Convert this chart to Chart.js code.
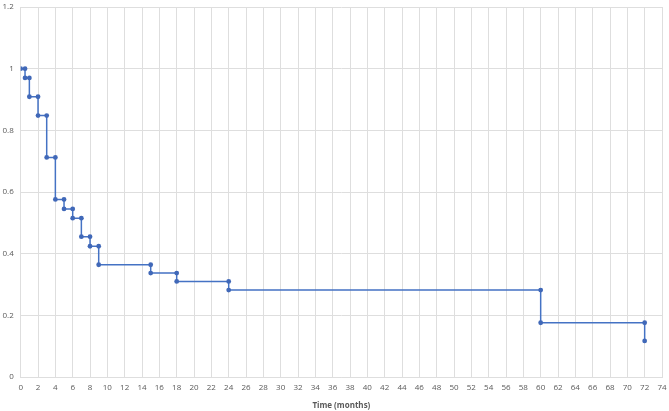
<!DOCTYPE html>
<html>
<head>
<meta charset="utf-8">
<script src="https://cdn.jsdelivr.net/npm/chart.js@4.4.1/dist/chart.umd.min.js"></script>
<style>
	html, body { margin: 0; padding: 0; background: #fff; }
	#wrap { width: 669px; height: 411px; }
</style>
</head>
<body>
<div id="wrap"><canvas id="kmChart" width="669" height="411"></canvas></div>
<script>
// step times (months) and survival level after each step
const times = [0, 0.5, 1, 2, 3, 4, 5, 6, 7, 8, 9, 15, 18, 24, 60, 72];
const survival = [1, 0.97, 0.909, 0.848, 0.712, 0.576, 0.545, 0.515, 0.455, 0.424, 0.364, 0.337, 0.31, 0.282, 0.176, 0.117];
const xTicks = { min: 0, max: 74, step: 2 };
const yTicks = { min: 0, max: 1.2, step: 0.2 };
const xTitle = 'Time (months)';

// corners of the step curve: horizontal to the next time, then drop
const points = [{ x: times[0], y: survival[0] }];
for (let i = 1; i < times.length; i++) {
	points.push({ x: times[i], y: survival[i - 1] });
	points.push({ x: times[i], y: survival[i] });
}

const gridColor = '#dedede';
const textColor = '#595959';
const font = { family: 'Open Sans', size: 8 };

new Chart(document.getElementById('kmChart').getContext('2d'), {
	type: 'scatter',
	data: {
		datasets: [{
			data: points,
			showLine: true,
			borderColor: '#4472c4',
			borderWidth: 1.5,
			pointRadius: 2.4,
			pointBackgroundColor: '#4068b8',
			pointBorderColor: '#4068b8',
			pointBorderWidth: 0
		}]
	},
	options: {
		responsive: false,
		animation: false,
		layout: { padding: { top: 7, right: 7, left: 0, bottom: 0 } },
		plugins: {
			legend: { display: false },
			tooltip: { enabled: false }
		},
		scales: {
			x: {
				type: 'linear',
				min: xTicks.min,
				max: xTicks.max,
				ticks: {
					stepSize: xTicks.step,
					color: textColor,
					font: font,
					padding: 6,
					maxRotation: 0,
					autoSkip: false
				},
				grid: { color: gridColor, drawTicks: false },
				border: { color: gridColor },
				title: {
					display: true,
					text: xTitle,
					color: textColor,
					font: { family: 'Open Sans', size: 8, weight: 'bold' },
					padding: { top: 4, bottom: 0 }
				},
				afterFit: scale => {
					scale.height = 34;
					scale.paddingLeft = 0;
					scale.paddingRight = 0;
				}
			},
			y: {
				type: 'linear',
				min: yTicks.min,
				max: yTicks.max,
				ticks: {
					stepSize: yTicks.step,
					color: textColor,
					font: font,
					padding: 7,
					callback: v => String(Math.round(v * 10) / 10)
				},
				grid: { color: gridColor, drawTicks: false },
				border: { color: gridColor },
				afterFit: scale => {
					scale.width = 20.7;
					scale.paddingTop = 0;
					scale.paddingBottom = 0;
				}
			}
		}
	}
});
</script>
</body>
</html>
